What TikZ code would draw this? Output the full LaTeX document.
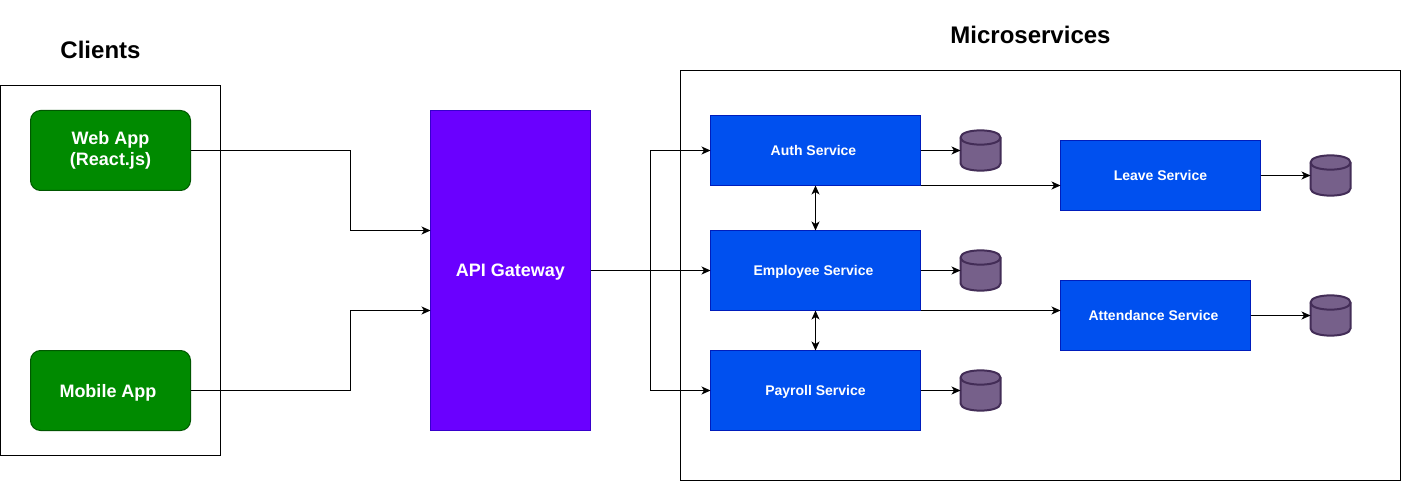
\documentclass[tikz,border=0pt]{standalone}
\usepackage{fontspec}
\setmainfont{Liberation Sans}
\usetikzlibrary{arrows.meta}
\definecolor{svcfill}{HTML}{0050EF}
\definecolor{svcline}{HTML}{001DBC}
\definecolor{appfill}{HTML}{008A00}
\definecolor{appline}{HTML}{005700}
\definecolor{gwfill}{HTML}{6A00FF}
\definecolor{gwline}{HTML}{3700CC}
\definecolor{dbfill}{HTML}{76608A}
\definecolor{dbline}{HTML}{432D57}
\tikzset{
  every node/.style={outer sep=0pt, inner sep=0pt},
  panel/.style={draw=black, fill=white, line width=1pt, anchor=north west},
  appbox/.style={draw=appline, fill=appfill, rounded corners=10pt, line width=1pt, minimum width=160pt, minimum height=80pt, align=center, text=white, font=\bfseries\fontsize{18}{21}\selectfont},
  svcbox/.style={draw=svcline, fill=svcfill, line width=1pt, text=white, text depth=0pt, font=\bfseries\fontsize{14}{17}\selectfont},
  dbnode/.style={minimum width=40pt, minimum height=40pt},
  dbshape/.style={draw=dbline, fill=dbfill, line width=2pt},
  heading/.style={font=\bfseries\fontsize{24}{28}\selectfont},
  link/.style={->, line width=1pt},
}
\begin{document}
\begin{tikzpicture}[x=1pt, y=-1pt, shift={(0.5,0.5)}, >={Stealth[length=9pt,width=8pt,inset=2.5pt]}]
\useasboundingbox (-0.5,-0.5) rectangle (1400.5,480.5);
%Clients
\node[panel, minimum width=220pt, minimum height=370pt] (clients) at (0,85) {};
\node[heading] (clientstitle) at (100,49) {Clients};
\node[appbox] (webapp) at (110,150) {Web App\\(React.js)};
\node[appbox, text depth=0pt] (mobileapp) at (110,390) {Mobile App\kern5pt};
%Gateway
\node[draw=gwline, fill=gwfill, line width=1pt, minimum width=160pt, minimum height=320pt, text=white, text depth=0pt, font=\bfseries\fontsize{18}{22}\selectfont] (gateway) at (510,270) {API Gateway};
%Microservices
\node[panel, minimum width=720pt, minimum height=410pt] (services) at (680,70) {};
\node[heading] (servicestitle) at (1030,34) {Microservices};
\node[svcbox, minimum width=210pt, minimum height=70pt] (auth) at (815,150) {Auth Service\kern4pt};
\node[svcbox, minimum width=210pt, minimum height=80pt] (employee) at (815,270) {Employee Service\kern4pt};
\node[svcbox, minimum width=210pt, minimum height=80pt] (payroll) at (815,390) {Payroll Service};
\node[svcbox, minimum width=200pt, minimum height=70pt] (leave) at (1160,175) {Leave Service};
\node[svcbox, minimum width=190pt, minimum height=70pt] (attendance) at (1155,315) {Attendance Service\kern4pt};
%Databases
\foreach \n/\x/\y in {authdb/980/150, employeedb/980/270, payrolldb/980/390, leavedb/1330/175, attendancedb/1330/315}{
\node[dbnode] (\n) at (\x,\y) {};
\draw[dbshape] ([yshift=-7pt]\n.north west) .. controls +(0,-9.5) and +(0,-9.5) .. ([yshift=-7pt]\n.north east) -- ([yshift=7pt]\n.south east) .. controls +(0,9.5) and +(0,9.5) .. ([yshift=7pt]\n.south west) -- cycle;
\draw[dbshape, fill=none] ([yshift=-7pt]\n.north west) .. controls +(0,9.5) and +(0,9.5) .. ([yshift=-7pt]\n.north east);
}
%Connectors
\coordinate (webturn) at (350,150);
\coordinate (mobileturn) at (350,390);
\coordinate (gwsplit) at (650,270);
\draw[link] (webapp.east) -- (webturn) |- (gateway.west |- 0,230);
\draw[link] (mobileapp.east) -- (mobileturn) |- (gateway.west |- 0,310);
\draw[link] (gateway.east) -- (employee.west);
\draw[link] (gwsplit) |- (auth.west);
\draw[link] (gwsplit) |- (payroll.west);
\foreach \a/\b in {auth/authdb, employee/employeedb, payroll/payrolldb, leave/leavedb, attendance/attendancedb}
\draw[link] (\a.east) -- (\b.west);
\draw[link] (auth.south east) -- (auth.south east -| leave.west);
\draw[link] (employee.south east) -- (employee.south east -| attendance.west);
\draw[<->, line width=1pt] (auth.south) -- (employee.north);
\draw[<->, line width=1pt] (employee.south) -- (payroll.north);
\end{tikzpicture}
\end{document}
